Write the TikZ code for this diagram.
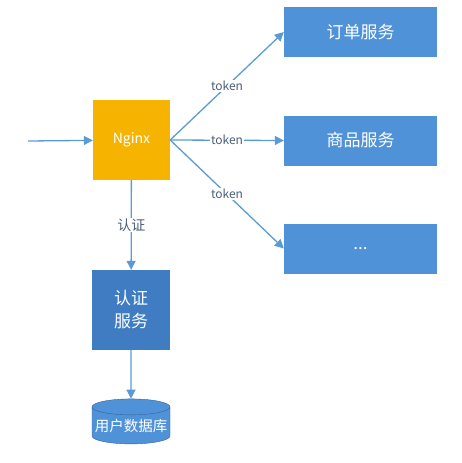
\documentclass[tikz,border=0pt]{standalone}
\usepackage{fontspec}
\setmainfont{Noto Sans CJK SC}
\usepackage{tikz}
\usepackage{xcolor}
\usetikzlibrary{positioning,arrows.meta,shapes.geometric}
\definecolor{gate}{HTML}{F6B400}
\definecolor{svcblue}{HTML}{5092D8}
\definecolor{authblue}{HTML}{3F7CC2}
\definecolor{linkblue}{HTML}{5B9BD5}
\definecolor{labelgray}{HTML}{4A5F78}

\begin{document}
\begin{tikzpicture}[x=1pt,y=-1pt,every node/.style={font=\fontsize{12}{14}\selectfont}]
      \tikzstyle{svc}=[rectangle,fill=svcblue,minimum width=153pt,minimum height=50pt,
                       inner sep=0pt,text=white,font=\fontsize{17}{20}\selectfont];
      \tikzstyle{lnk}=[linkblue,line width=1.3pt,-{Triangle[length=9pt,width=9pt]}];
      \tikzstyle{tag}=[fill=white,inner sep=1pt,text=labelgray];
      \useasboundingbox (0,0) rectangle (461,463);
      \node[rectangle,fill=gate,minimum width=77pt,minimum height=80pt,inner sep=0pt,
            text=white,font=\fontsize{14}{16}\selectfont] (nginx) at (131.5,140) {Nginx};
      \node[svc] (order) at (360.5,32)  {订单服务};
      \node[svc] (goods) at (360.5,140.5) {商品服务};
      \node[svc] (more)  at (360.5,248.5) {...};
      \node[rectangle,fill=authblue,minimum width=78pt,minimum height=80pt,inner sep=0pt,
            text=white,align=center,font=\fontsize{17}{23}\selectfont] (auth) at (131,310) {认证\\服务};
      \node[cylinder,shape border rotate=90,aspect=0.22,draw=authblue!80!black,fill=svcblue,
            minimum width=78pt,minimum height=45pt,inner sep=0pt,text=white,
            font=\fontsize{14.5}{16}\selectfont] (userdb) at (131,425.5) {用户数据库};
      \coordinate (in) at (28,141);
      \draw[lnk] (in)--(nginx);
      \draw[lnk] (nginx.east)--(order.west) node[tag,pos=0.5] {token};
      \draw[lnk] (nginx.east)--(goods.west) node[tag,pos=0.5] {token};
      \draw[lnk] (nginx.east)--(more.west)  node[tag,pos=0.5] {token};
      \draw[lnk] (nginx)--(auth) node[tag,pos=0.5,font=\fontsize{14}{16}\selectfont] {认证};
      \draw[lnk] (auth)--(userdb);
    \end{tikzpicture}
\end{document}
